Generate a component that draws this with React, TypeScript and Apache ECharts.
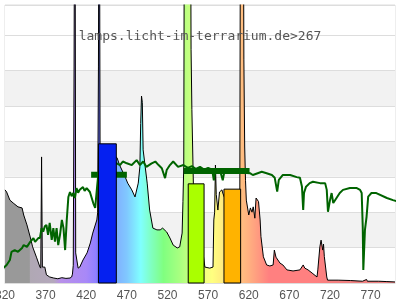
import React, { useEffect, useRef } from 'react';
import * as echarts from 'echarts';

const titleText = 'lamps.licht-im-terrarium.de>267';

// lamp spectrum (wavelength nm, relative value)
const lampNm = [
  320, 322, 326, 330, 336, 341, 343, 347, 351, 354, 359, 363, 364, 365, 366, 369, 371, 375, 380, 385,
  390, 395, 400, 402, 403, 404, 405, 406, 407, 410, 412, 416, 421, 425, 428, 433, 434, 435, 436, 437,
  440, 445, 450, 455, 458, 461, 468, 471, 476, 480, 484, 486, 487, 488, 489, 490, 495, 498, 502, 507,
  511, 514, 519, 523, 527, 532, 535, 538, 539, 540, 541, 548, 549, 550, 552, 556, 560, 564, 566, 572,
  576, 577, 578, 579, 580, 582, 584, 587, 588, 592, 598, 604, 609, 610, 613, 614, 615, 616, 617, 620,
  622, 624, 625.5, 627.5, 629, 632, 634, 635, 638, 642, 646, 650, 651.5, 653.5, 658.5, 662, 667, 674.5, 683, 687,
  689, 693, 698, 704, 705, 707.5, 709, 711, 712, 713, 716, 717, 730, 745, 760, 765, 766, 780, 790, 800,
];
const lampVal = [
  2.63, 2.57, 2.34, 2.26, 2.15, 2.12, 1.92, 1.64, 1.30, 1.02, 0.71, 0.45, 0.42, 3.56, 0.45, 0.45, 0.23, 0.17, 0.14, 0.12,
  0.15, 0.13, 0.14, 0.17, 0.25, 0.5, 6.1, 14, 0.85, 0.42, 0.45, 0.65, 0.85, 1.13, 1.41, 1.78, 1.98, 6.1, 14, 3.8,
  3.5, 3.6, 3.7, 3.6, 3.53, 3.33, 2.99, 2.82, 2.63, 2.43, 2.82, 3.28, 4.5, 5.28, 5.1, 3.76, 2.82, 2.06, 1.55, 1.50,
  1.50, 1.55, 1.44, 1.27, 1.07, 0.99, 1.02, 1.41, 2.3, 3.3, 14, 14, 6.6, 4.9, 2.6, 2.2, 1.5, 0.8, 0.45, 0.42,
  0.45, 1.78, 2.0, 3.33, 2.5, 2.06, 2.57, 2.63, 2.54, 2.3, 2.2, 2.3, 2.5, 14, 14, 6.3, 3.84, 2.9, 2.34, 1.92,
  2.12, 2.0, 2.15, 1.83, 2.4, 2.30, 1.78, 1.31, 0.74, 0.51, 0.48, 0.51, 0.93, 0.73, 0.56, 0.51, 0.37, 0.34, 0.37, 0.51,
  0.42, 0.37, 0.28, 0.17, 0.37, 1.02, 1.21, 0.93, 1.1, 0.75, 0.17, 0.08, 0.08, 0.07, 0.05, 0.1, 0.05, 0.05, 0.04, 0.03,
];

// daylight reference spectrum
const dayNm = [
  316, 318, 322, 326, 328, 332, 336, 341, 343, 347, 351, 355, 357, 361, 363, 365, 367, 369, 371, 373,
  375, 377.5, 379.5, 381.5, 383.5, 385.5, 387.7, 390, 392, 394, 396, 398, 400, 402, 404, 406, 408, 410, 412, 416,
  418, 420.5, 424.5, 428.7, 431, 433, 435, 440, 445, 450, 457.5, 461.5, 465, 470, 476, 482, 486, 490, 494, 500.5,
  505, 509, 513, 517, 519, 523, 527, 533, 539.5, 545, 550, 555, 560, 565, 570, 575, 577, 579, 584.5, 588,
  590, 600, 610, 621.5, 625, 631, 636, 642, 648.5, 652, 655, 657, 662, 671, 679, 683, 685.5, 687, 688, 690.5,
  695, 699, 707.7, 714, 716, 717.5, 720, 722, 724, 728, 732, 736, 744.5, 753, 757, 759, 760.3, 761, 763, 765,
  767, 771, 777, 790, 797.5, 804,
];
const dayVal = [
  0.23, 0.42, 0.51, 0.65, 0.88, 0.93, 0.88, 0.99, 1.07, 1.02, 1.16, 1.27, 1.16, 1.27, 1.27, 1.55, 1.45, 1.60, 1.64, 1.36,
  1.70, 1.22, 1.55, 1.17, 1.55, 1.07, 1.36, 1.78, 1.55, 0.93, 1.78, 2.43, 2.57, 2.45, 2.54, 2.4, 2.68, 2.55, 2.63, 2.71,
  2.6, 2.68, 2.57, 2.25, 2.12, 2.63, 3.11, 3.25, 3.3, 3.35, 3.38, 3.33, 3.43, 3.38, 3.33, 3.47, 3.33, 3.43, 3.28, 3.38,
  3.43, 3.33, 3.24, 2.96, 3.19, 3.33, 3.43, 3.28, 3.33, 3.25, 3.3, 3.22, 3.28, 3.2, 3.25, 3.2, 2.9, 3.2, 3.19, 2.9,
  3.15, 3.15, 3.12, 3.1, 3.05, 3.1, 3.14, 3.1, 3.05, 2.97, 2.58, 2.91, 3.05, 3.05, 2.99, 2.97, 2.72, 2.06, 2.54, 2.72,
  2.82, 2.86, 2.82, 2.82, 2.63, 2.01, 2.34, 2.54, 2.26, 2.40, 2.54, 2.63, 2.68, 2.68, 2.63, 2.54, 1.59, 0.37, 1.5, 1.87,
  2.44, 2.54, 2.54, 2.40, 2.34, 2.30,
];

// colour band bars
const bandStart = [435, 545.5, 589.5];
const bandEnd = [457, 565, 610];
const bandHeight = [3.93, 2.8, 2.65];
const bandColors = ['#0520f0', '#aaff00', '#ffb300'];

// daylight band averages (thick segments)
const avgStart = [426, 540];
const avgEnd = [470, 621];
const avgLevel = [3.06, 3.16];

// spectrum fill colours by wavelength
const gradNm = [320, 350, 351, 380, 388, 420, 432, 440, 457, 470, 487, 500, 515, 535, 548, 565, 575, 590, 610, 620, 645, 700, 740, 800];
const gradColor = [
  '#999999', '#999999', '#b0a8b4', '#b4a8bc', '#b890e8', '#a888f8', '#9080ff', '#4060ff', '#80b0ff', '#80c8ff',
  '#80ffff', '#80ffc0', '#80ff80', '#a8ff80', '#c8ff80', '#f0ff80', '#ffff80', '#ffe880', '#ffc080', '#ffb080',
  '#ff8080', '#ff8080', '#f08080', '#f08080',
];

const xMin = 320;
const xMax = 800;
const xStep = 50;
const yMax = 7.85;
const stripeColors = ['#ffffff', '#f2f2f2', '#ffffff', '#f2f2f2', '#ffffff', '#f2f2f2', '#ffffff', '#ffffff'];

export default function App() {
  const ref = useRef<HTMLDivElement>(null);
  useEffect(() => {
    if (!ref.current) return;
    const chart = echarts.init(ref.current, null, { renderer: 'svg' });
    const lampData = lampNm.map((n, i) => [n, lampVal[i]]);
    const dayData = dayNm.map((n, i) => [n, dayVal[i]]);
    const stops = gradNm.map((n, i) => ({ offset: (n - xMin) / (xMax - xMin), color: gradColor[i] }));
    const avgSeries = avgStart.map((s, i) => ({
      type: 'line',
      z: 4,
      symbol: 'none',
      silent: true,
      lineStyle: { color: '#006400', width: 6, cap: 'butt' },
      data: [[s, avgLevel[i]], [avgEnd[i], avgLevel[i]]],
    }));
    chart.setOption({
      animation: false,
      title: {
        text: titleText,
        left: 'center',
        top: 24,
        textStyle: { fontFamily: 'DejaVu Sans Mono', fontSize: 13, fontWeight: 'normal', color: '#555' },
      },
      grid: {
        left: 5, right: 5, top: 5, bottom: 17,
        containLabel: false,
        outerBoundsMode: 'none',
        show: true, borderColor: '#dddddd', borderWidth: 1, backgroundColor: 'transparent',
      },
      xAxis: {
        type: 'value',
        min: xMin,
        max: xMax,
        interval: xStep,
        axisLine: { show: true, lineStyle: { color: '#dddddd' } },
        axisTick: { show: false },
        splitLine: { show: false },
        axisLabel: { showMaxLabel: false, hideOverlap: false, margin: 6, color: '#555', fontSize: 12, fontFamily: 'Liberation Sans' },
      },
      yAxis: {
        type: 'value',
        min: 0,
        max: yMax,
        interval: 1,
        axisLine: { show: false },
        axisTick: { show: false },
        axisLabel: { show: false },
        splitLine: { show: true, lineStyle: { color: '#dddddd' } },
        splitArea: { show: true, areaStyle: { color: stripeColors } },
      },
      series: [
        {
          type: 'line',
          z: 2,
          symbol: 'none',
          silent: true,
          data: lampData,
          lineStyle: { color: '#000', width: 1 },
          areaStyle: { opacity: 1, color: new echarts.graphic.LinearGradient(0, 0, 1, 0, stops) },
        },
        {
          type: 'line',
          z: 3,
          symbol: 'none',
          silent: true,
          clip: false,
          data: dayData,
          lineStyle: { color: '#006400', width: 2 },
        },
        ...avgSeries,
        {
          type: 'custom',
          z: 5,
          silent: true,
          data: bandStart.map((s, i) => [s, bandEnd[i], bandHeight[i]]),
          encode: { x: [0, 1], y: 2 },
          renderItem: (params: any, api: any) => {
            const a = api.coord([api.value(0), 0]);
            const b = api.coord([api.value(1), api.value(2)]);
            return {
              type: 'rect',
              shape: { x: a[0], y: b[1], width: b[0] - a[0], height: a[1] - b[1] },
              style: { fill: bandColors[params.dataIndex], stroke: '#000', lineWidth: 1 },
            };
          },
        },
      ],
    } as any);
    return () => chart.dispose();
  }, []);
  return <div ref={ref} style={{ position: 'fixed', left: 0, top: 0, width: 400, height: 300 }} />;
}
